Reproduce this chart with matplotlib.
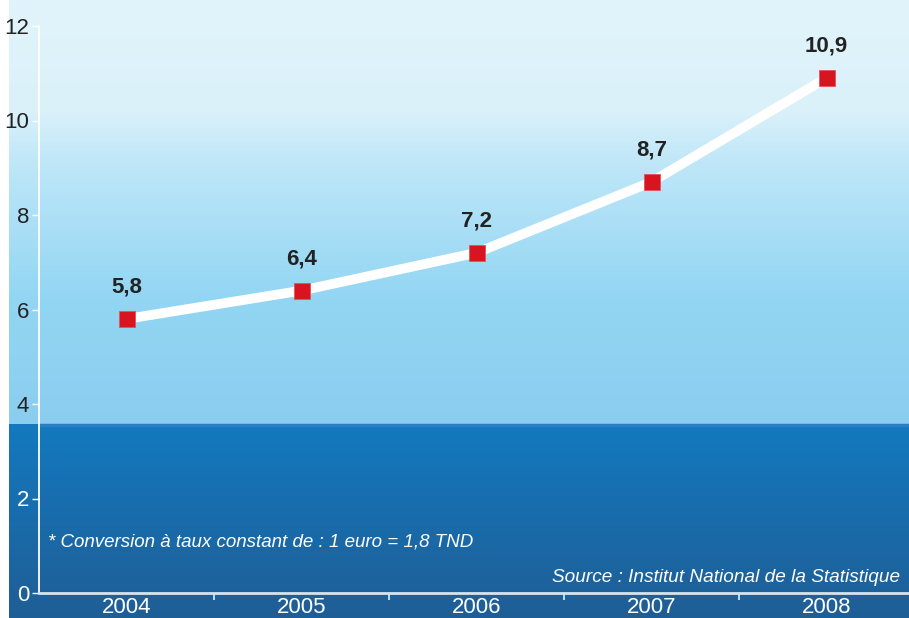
import numpy as np
import matplotlib.pyplot as plt
from matplotlib.colors import LinearSegmentedColormap
from matplotlib.ticker import FixedLocator

# ─── Data ─────────────────────────────────────────────────────────────────────
years = ["2004", "2005", "2006", "2007", "2008"]
values = [5.8, 6.4, 7.2, 8.7, 10.9]
value_labels = ["5,8", "6,4", "7,2", "8,7", "10,9"]
y_ticks = [0, 2, 4, 6, 8, 10, 12]

note_text = "* Conversion à taux constant de : 1 euro = 1,8 TND"
source_text = "Source : Institut National de la Statistique"

FONT = ["Liberation Sans Narrow", "Liberation Sans", "DejaVu Sans"]
plt.rcParams["font.family"] = FONT

W, H = 909, 618
fig = plt.figure(figsize=(W / 100, H / 100), dpi=100)
fig.patch.set_facecolor("white")

# axes geometry in pixels
left_px, bottom_px = 39, 593
unit_x, unit_y = 175, 47.25
ax = fig.add_axes([left_px / W, (H - bottom_px) / H, 5 * unit_x / W, 12 * unit_y / H])
ax.set_xlim(-0.5, 4.5)
ax.set_ylim(0, 12)
ax.patch.set_alpha(0)

# ─── Background gradient (light sky, then dark band) ─────────────────────────
band = 3.56
x0 = -0.5 - (left_px - 9) / unit_x
y_bot = -(H - bottom_px) / unit_y
y_top = bottom_px / unit_y

sky = LinearSegmentedColormap.from_list(
    "sky", [(0.0, "#8bcdef"), (0.3, "#93d6f3"), (0.62, "#bfe7f8"),
            (0.74, "#daf1fa"), (1.0, "#e2f4fb")]
)
deep = LinearSegmentedColormap.from_list("deep", [(0.0, "#1f5e96"), (1.0, "#1379bf")])
grad = np.linspace(0, 1, 256).reshape(-1, 1)
ax.imshow(grad, cmap=sky, aspect="auto", origin="lower",
          extent=[x0, 4.6, band, y_top], clip_on=False, zorder=0)
ax.imshow(grad, cmap=deep, aspect="auto", origin="lower",
          extent=[x0, 4.6, y_bot, band], clip_on=False, zorder=0)
ax.axhline(band, color="#2a80c2", linewidth=2.5, zorder=1, clip_on=False)

# ─── Line ─────────────────────────────────────────────────────────────────────
x = np.arange(len(years))
ax.plot(x, values, color="white", linewidth=7, solid_capstyle="butt", zorder=3)
ax.plot(x, values, linestyle="none", marker="s", markersize=11,
        markerfacecolor="#d7141f", markeredgecolor="#e8505a", markeredgewidth=0.6, zorder=4)
for xi, v, lab in zip(x, values, value_labels):
    ax.annotate(lab, (xi, v), textcoords="offset points", xytext=(0, 19),
                ha="center", va="baseline", fontsize=16, fontweight="bold",
                color="#222222", zorder=5)

# ─── Axes styling ────────────────────────────────────────────────────────────
for s in ["top", "right"]:
    ax.spines[s].set_visible(False)
ax.spines["left"].set_color("white")
ax.spines["left"].set_linewidth(1.3)
ax.spines["bottom"].set_color("#d6e4ee")
ax.spines["bottom"].set_linewidth(2)
ax.spines["left"].set_zorder(2)
ax.spines["bottom"].set_zorder(2)

ax.set_yticks(y_ticks)
ax.set_yticklabels([str(t) for t in y_ticks])
ax.tick_params(axis="y", length=5, width=1, color="white", pad=2, labelsize=16)
for t, lab in zip(y_ticks, ax.get_yticklabels()):
    lab.set_color("white" if t < band else "#222222")

ax.set_xticks(x)
ax.set_xticklabels(years)
ax.tick_params(axis="x", length=0, pad=3, labelsize=16, labelcolor="white")
ax.xaxis.set_minor_locator(FixedLocator([0.5, 1.5, 2.5, 3.5]))
ax.tick_params(axis="x", which="minor", length=5, width=1.3, color="#d6e4ee")

# ─── Notes ────────────────────────────────────────────────────────────────────
fig.text(48 / W, 1 - 542 / H, note_text, fontsize=13.5, style="italic",
         color="white", ha="left", va="center", family=FONT)
fig.text(900 / W, 1 - 577 / H, source_text, fontsize=13.7, style="italic",
         color="white", ha="right", va="center", family=FONT)

fig.savefig("out.png", dpi=100)
